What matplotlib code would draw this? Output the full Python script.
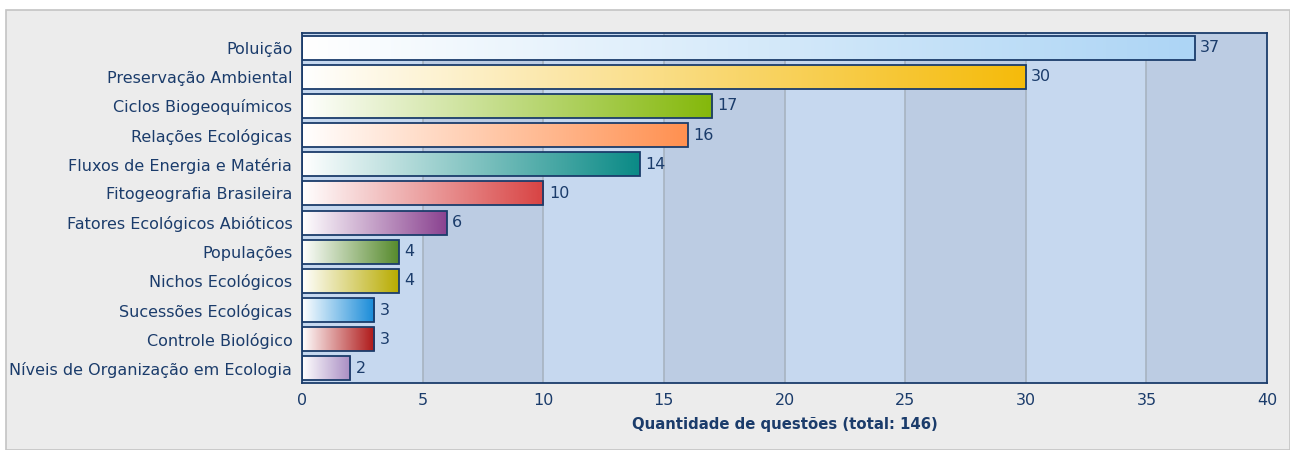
import matplotlib
matplotlib.use("Agg")
import matplotlib.pyplot as plt
import numpy as np
from matplotlib.colors import LinearSegmentedColormap
from matplotlib.patches import Rectangle

# data
categories = ["Poluição", "Preservação Ambiental", "Ciclos Biogeoquímicos",
              "Relações Ecológicas", "Fluxos de Energia e Matéria",
              "Fitogeografia Brasileira", "Fatores Ecológicos Abióticos",
              "Populações", "Nichos Ecológicos", "Sucessões Ecológicas",
              "Controle Biológico", "Níveis de Organização em Ecologia"]
values = [37, 30, 17, 16, 14, 10, 6, 4, 4, 3, 3, 2]
bar_colors = ["#add5f5", "#f5bb0a", "#84b80a", "#ff9050", "#0a8a86",
              "#d84343", "#8a4290", "#568a2c", "#b8ab00", "#168ad8",
              "#ae1616", "#a88cc2"]
x_ticks = [0, 5, 10, 15, 20, 25, 30, 35, 40]

navy = "#1b3c6b"

fig = plt.figure(figsize=(12.9, 4.5), dpi=100)
fig.patch.set_facecolor("white")
# outer grey panel
panel = Rectangle((6 / 1290, 0), 1 - 6 / 1290, 440 / 450, transform=fig.transFigure,
                  facecolor="#ececec", edgecolor="#c4c4c4", lw=1.2, zorder=-5)
fig.patches.append(panel)

ax = fig.add_axes([302 / 1290, 67 / 450, 965 / 1290, 350 / 450])
ax.set_zorder(1)
ax.set_facecolor("#c6d8ef")
ax.set_xlim(0, 40)
ax.set_ylim(len(categories) - 0.5, -0.5)

# alternating bands
for i, x0 in enumerate(x_ticks[:-1]):
    ax.axvspan(x0, x0 + 5, color="#c6d8ef" if i % 2 == 0 else "#bccce3", lw=0, zorder=0)
for x in x_ticks[1:-1]:
    ax.axvline(x, color="#a7b3c1", lw=1.2, zorder=1)

h = 0.82
grad = np.linspace(0, 1, 256).reshape(1, -1)
for i, (v, c) in enumerate(zip(values, bar_colors)):
    cmap = LinearSegmentedColormap.from_list("g%d" % i, ["#ffffff", c])
    im = ax.imshow(grad, cmap=cmap, aspect="auto", extent=[0, v, i + h / 2, i - h / 2],
                   zorder=2, interpolation="bilinear")
    r = Rectangle((0, i - h / 2), v, h, facecolor="none", edgecolor=navy, lw=1.3, zorder=3)
    ax.add_patch(r)
    im.set_clip_path(r)
    ax.annotate(str(v), (v, i), xytext=(4, 0), textcoords="offset points",
                va="center", ha="left", fontsize=11.5, color=navy)

ax.set_xlim(0, 40)
ax.set_ylim(len(categories) - 0.5, -0.5)
ax.set_yticks(range(len(categories)))
ax.set_yticklabels(categories)
ax.set_xticks(x_ticks)
ax.tick_params(length=0, labelsize=11.5, colors=navy, pad=7)
for s in ax.spines.values():
    s.set_color(navy)
    s.set_linewidth(1.3)
ax.set_xlabel("Quantidade de questões (total: 146)", fontsize=10.7, fontweight="bold",
              color=navy, labelpad=7)

fig.savefig("out.png", dpi=100, facecolor=fig.get_facecolor())
